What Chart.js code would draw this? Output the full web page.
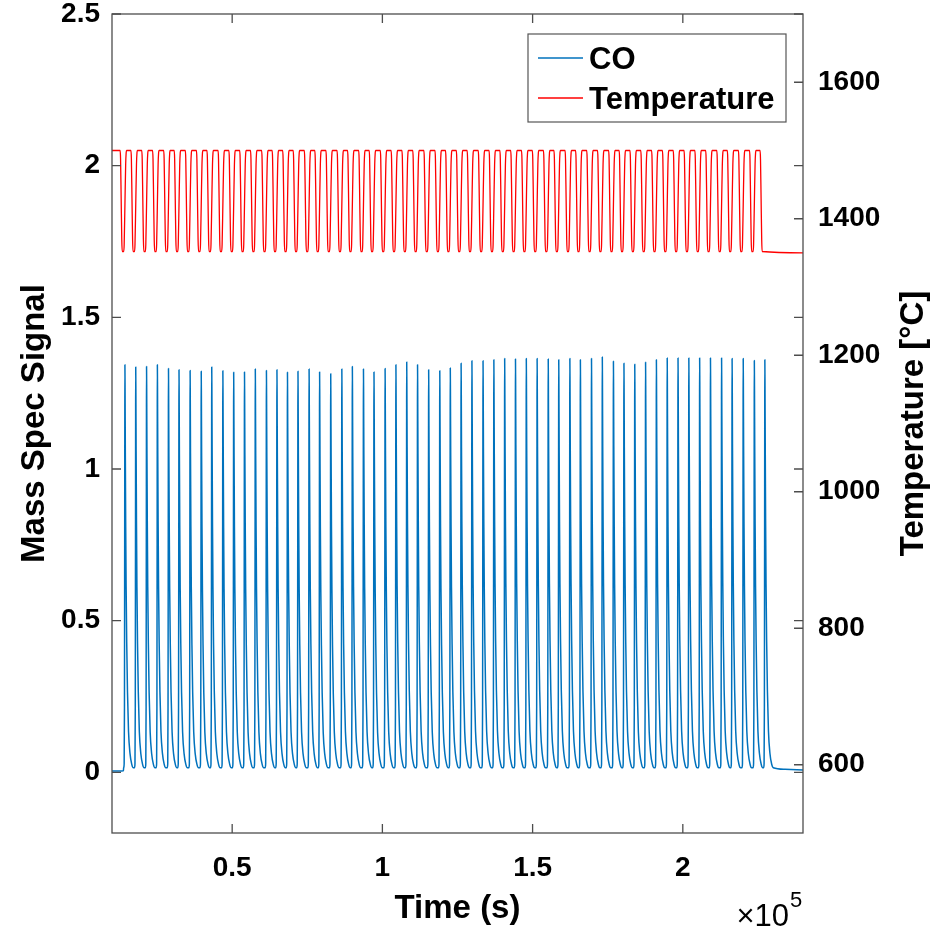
<!DOCTYPE html>
<html>
<head>
<meta charset="utf-8">
<script src="https://cdn.jsdelivr.net/npm/chart.js@4.4.1/dist/chart.umd.min.js"></script>
<style>
  html, body { margin: 0; padding: 0; background: #fff; }
  canvas { display: block; }
</style>
</head>
<body>
<canvas id="cycleChart" width="942" height="936"></canvas>
<script>
// Data (time in seconds)
const timeRange = [10000, 240000];

// CO peak of each cycle: time and top value
const coPeakTimes = [14300, 17900, 21500, 25100, 28800, 32300, 36000, 39700, 43200, 46900,
  50500, 54100, 57700, 61400, 64900, 68400, 71900, 75600, 79100, 82800,
  86500, 90000, 93700, 97200, 100900, 104500, 108100, 111700, 115400, 119100,
  122600, 126200, 129800, 133500, 137100, 140700, 144300, 147900, 151500, 155200,
  158700, 162400, 165900, 169600, 173200, 176900, 180400, 184000, 187600, 191200,
  194800, 198400, 202000, 205600, 209200, 212900, 216400, 220100, 223800, 227300];
const coPeakValues = [1.344, 1.336, 1.338, 1.344, 1.331, 1.327, 1.325, 1.322, 1.336, 1.324,
  1.319, 1.320, 1.330, 1.325, 1.327, 1.319, 1.322, 1.330, 1.320, 1.314,
  1.330, 1.338, 1.330, 1.320, 1.331, 1.344, 1.353, 1.344, 1.327, 1.324,
  1.333, 1.349, 1.357, 1.357, 1.360, 1.364, 1.363, 1.364, 1.364, 1.363,
  1.360, 1.364, 1.360, 1.364, 1.369, 1.355, 1.349, 1.345, 1.352, 1.360,
  1.366, 1.366, 1.366, 1.366, 1.366, 1.366, 1.364, 1.364, 1.358, 1.360];

// shape of one CO pulse around its peak (seconds, share of peak above baseline)
const coShapeOffsets = [-420, -250, -150, -80, -30, 0, 50, 130, 250, 400, 600, 850, 1200, 1700, 2300, 2800];
const coShapeFractions = [0, 0.01, 0.15, 0.55, 0.9, 1, 0.94, 0.79, 0.61, 0.45, 0.31, 0.19, 0.09, 0.035, 0.008, 0];
const coBase = 0.015;
const coStartTimes = [10000, 13800];
const coStartValues = [0.004, 0.005];
const coEndTimes = [234000, 240000];
const coEndValues = [0.010, 0.008];

// temperature around each CO peak (seconds, °C)
const tempShapeOffsets = [-1600, -1450, -1250, -1050, -900, -400, -250, 0, 250, 420, 550];
const tempShapeValues = [1500, 1488, 1430, 1370, 1352, 1352, 1362, 1420, 1480, 1497, 1500];
const tempStart = 1500;
const tempFinal = 1350;

// axis ticks
const xTicks = [50000, 100000, 150000, 200000];
const yTicks = [0, 0.5, 1, 1.5, 2, 2.5];
const y1Ticks = [600, 800, 1000, 1200, 1400, 1600];

const coColor = '#0072BD';
const tempColor = '#FF0000';
const axisColor = '#4d4d4d';
const fontFamily = "'Liberation Sans', Arial, sans-serif";

// build point lists
const coPoints = coStartTimes.map((t, i) => ({ x: t, y: coStartValues[i] }));
coPeakTimes.forEach((tp, i) => {
    const amp = coPeakValues[i];
    coShapeOffsets.forEach((dt, k) => {
        coPoints.push({ x: tp + dt, y: coBase + coShapeFractions[k] * (amp - coBase) });
    });
});
coEndTimes.forEach((t, i) => coPoints.push({ x: t, y: coEndValues[i] }));

const tempPoints = [{ x: timeRange[0], y: tempStart }];
coPeakTimes.forEach((tp, i) => {
    const last = i === coPeakTimes.length - 1;
    tempShapeOffsets.forEach((dt, k) => {
        if (last && dt > -900) return; // stays low after the final drop
        tempPoints.push({ x: tp + dt, y: tempShapeValues[k] });
    });
});
tempPoints.push({ x: timeRange[1], y: tempFinal });

// box, inward ticks, right title, x10^5 and legend, MATLAB style
const matlabAxes = {
    id: 'matlabAxes',
    afterDatasetsDraw(chart) {
        const { ctx, chartArea: a, scales: { x, y, y1 } } = chart;
        const tl = 9;
        ctx.save();
        ctx.strokeStyle = axisColor;
        ctx.lineWidth = 1.3;
        ctx.strokeRect(a.left, a.top, a.right - a.left, a.bottom - a.top);
        ctx.beginPath();
        xTicks.forEach(v => {
            const px = x.getPixelForValue(v);
            ctx.moveTo(px, a.bottom); ctx.lineTo(px, a.bottom - tl);
            ctx.moveTo(px, a.top); ctx.lineTo(px, a.top + tl);
        });
        yTicks.forEach(v => {
            const py = y.getPixelForValue(v);
            ctx.moveTo(a.left, py); ctx.lineTo(a.left + tl, py);
            ctx.moveTo(a.right, py); ctx.lineTo(a.right - tl, py);
        });
        y1Ticks.forEach(v => {
            const py = y1.getPixelForValue(v);
            ctx.moveTo(a.right, py); ctx.lineTo(a.right - tl, py);
        });
        ctx.stroke();

        // right axis title, reads bottom to top
        ctx.fillStyle = '#000';
        ctx.font = 'bold 33px ' + fontFamily;
        ctx.textAlign = 'center';
        ctx.textBaseline = 'middle';
        ctx.translate(914, (a.top + a.bottom) / 2);
        ctx.rotate(-Math.PI / 2);
        ctx.fillText('Temperature [°C]', 0, 0);
        ctx.setTransform(1, 0, 0, 1, 0, 0);

        // exponent
        ctx.textBaseline = 'alphabetic';
        ctx.textAlign = 'right';
        ctx.font = '31px ' + fontFamily;
        ctx.fillText('×10', a.right - 14, 926);
        ctx.textAlign = 'left';
        ctx.font = '22px ' + fontFamily;
        ctx.fillText('5', a.right - 13, 907);

        // legend
        const bx = 528, by = 34, bw = 258, bh = 88;
        ctx.fillStyle = '#fff';
        ctx.fillRect(bx, by, bw, bh);
        ctx.strokeStyle = '#555';
        ctx.lineWidth = 1.2;
        ctx.strokeRect(bx, by, bw, bh);
        ctx.font = 'bold 31px ' + fontFamily;
        ctx.textBaseline = 'middle';
        chart.data.datasets.forEach((ds, i) => {
            const ly = by + 24 + i * 40;
            ctx.strokeStyle = ds.borderColor;
            ctx.lineWidth = 1.3;
            ctx.beginPath();
            ctx.moveTo(bx + 10, ly); ctx.lineTo(bx + 55, ly);
            ctx.stroke();
            ctx.fillStyle = '#000';
            ctx.fillText(ds.label, bx + 61, ly + 2);
        });
        ctx.restore();
    }
};

const tickFont = { family: fontFamily, size: 28, weight: 'bold' };
const titleFont = { family: fontFamily, size: 33, weight: 'bold' };

const chartCtx = document.getElementById('cycleChart').getContext('2d');
new Chart(chartCtx, {
    type: 'line',
    data: {
        datasets: [
            {
                label: 'CO',
                data: coPoints,
                yAxisID: 'y',
                borderColor: coColor,
                borderWidth: 1.5,
                pointRadius: 0,
                cubicInterpolationMode: 'monotone',
                borderJoinStyle: 'round'
            },
            {
                label: 'Temperature',
                data: tempPoints,
                yAxisID: 'y1',
                borderColor: tempColor,
                borderWidth: 1.3,
                pointRadius: 0,
                cubicInterpolationMode: 'monotone',
                borderJoinStyle: 'round'
            }
        ]
    },
    options: {
        responsive: false,
        animation: false,
        events: [],
        layout: { padding: { top: 14 } },
        plugins: { legend: { display: false }, tooltip: { enabled: false } },
        scales: {
            x: {
                type: 'linear',
                min: timeRange[0],
                max: timeRange[1],
                grid: { display: false },
                border: { display: false },
                afterBuildTicks: s => { s.ticks = xTicks.map(v => ({ value: v })); },
                afterFit: s => { s.height = 103; s.paddingLeft = 0; s.paddingRight = 0; },
                ticks: {
                    autoSkip: false, maxRotation: 0, padding: 10, color: '#000', font: tickFont,
                    callback: v => String(v / 1e5)
                },
                title: { display: true, text: 'Time (s)', color: '#000', font: titleFont, padding: { bottom: 7 } }
            },
            y: {
                position: 'left',
                min: -0.2,
                max: 2.5,
                grid: { display: false },
                border: { display: false },
                afterBuildTicks: s => { s.ticks = yTicks.map(v => ({ value: v })); },
                afterFit: s => { s.width = 112; s.paddingTop = 0; s.paddingBottom = 0; },
                ticks: { padding: 4, color: '#000', font: tickFont, callback: v => String(v) },
                title: { display: true, text: 'Mass Spec Signal', color: '#000', font: titleFont, padding: { top: 15 } }
            },
            y1: {
                position: 'right',
                min: 500,
                max: 1700,
                grid: { display: false },
                border: { display: false },
                afterBuildTicks: s => { s.ticks = y1Ticks.map(v => ({ value: v })); },
                afterFit: s => { s.width = 139; s.paddingTop = 0; s.paddingBottom = 0; },
                ticks: { padding: 7, color: '#000', font: tickFont, callback: v => String(v) }
            }
        }
    },
    plugins: [matlabAxes]
});
</script>
</body>
</html>
